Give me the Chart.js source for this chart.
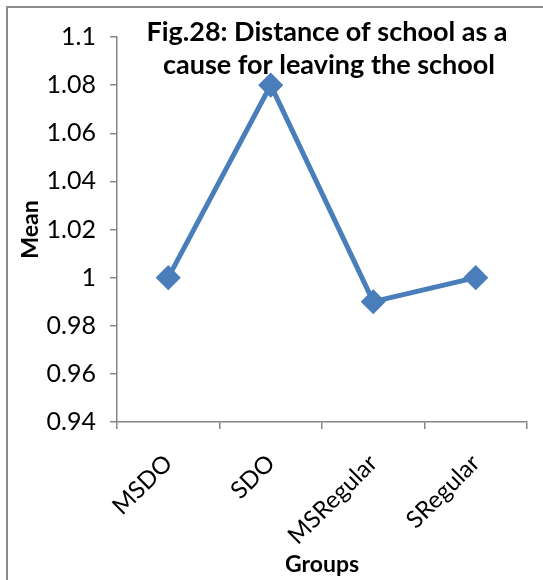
<!DOCTYPE html>
<html>
<head>
<meta charset="utf-8">
<script src="https://cdn.jsdelivr.net/npm/chart.js@4/dist/chart.umd.min.js"></script>
<style>
  html, body { margin: 0; padding: 0; background: #fff; }
  #wrap { position: relative; width: 543px; height: 580px; }
</style>
</head>
<body>
<div id="wrap"><canvas id="c" width="543" height="580"></canvas></div>
<script>
const groups = ['MSDO', 'SDO', 'MSRegular', 'SRegular'];
const meanValues = [1.0, 1.08, 0.99, 1.0];
const titleLines = ['Fig.28: Distance of school as a', 'cause for leaving the school'];
const yMin = 0.94, yMax = 1.1, yStep = 0.02;

const FONT = 'Lato, "Open Sans", "Liberation Sans", sans-serif';
const AXIS_GREY = '#868686';

// Frame around the figure and the title placed inside the plot
const decorations = {
  id: 'decorations',
  beforeDraw(chart) {
    const ctx = chart.ctx;
    ctx.save();
    ctx.strokeStyle = '#8c8c8c';
    ctx.lineWidth = 2;
    ctx.beginPath();
    ctx.moveTo(7, 580);
    ctx.lineTo(7, 7);
    ctx.lineTo(543, 7);
    ctx.stroke();
    ctx.restore();
  },
  afterDraw(chart) {
    const ctx = chart.ctx;
    ctx.save();
    ctx.fillStyle = '#000';
    ctx.font = 'bold 27px ' + FONT;
    ctx.textAlign = 'center';
    ctx.textBaseline = 'middle';
    ctx.fillText(titleLines[0], 327, 32);
    ctx.fillText(titleLines[1], 329, 65);
    ctx.restore();
  }
};

new Chart(document.getElementById('c'), {
  type: 'line',
  data: {
    labels: groups,
    datasets: [{
      data: meanValues,
      borderColor: '#4A7EBB',
      backgroundColor: '#4A7EBB',
      borderWidth: 5,
      pointStyle: 'rectRot',
      pointRadius: 9,
      pointHoverRadius: 9,
      tension: 0,
      fill: false
    }]
  },
  options: {
    responsive: false,
    animation: false,
    layout: { padding: { top: 37, right: 16, left: 0, bottom: 0 } },
    plugins: {
      legend: { display: false },
      tooltip: { enabled: false },
      title: { display: false }
    },
    scales: {
      x: {
        type: 'category',
        offset: true,
        afterFit(scale) { scale.height = 158; },
        border: { color: AXIS_GREY, width: 1.5 },
        grid: {
          offset: true,
          drawOnChartArea: false,
          drawTicks: true,
          tickLength: 7,
          color: AXIS_GREY,
          lineWidth: 1.5
        },
        ticks: {
          color: '#000',
          font: { family: FONT, size: 24 },
          minRotation: 45,
          maxRotation: 45,
          padding: 20
        },
        title: {
          display: true,
          text: 'Groups',
          color: '#000',
          font: { family: FONT, size: 23, weight: 'bold' },
          padding: { top: 0, bottom: 2 }
        }
      },
      y: {
        min: yMin,
        max: yMax,
        afterFit(scale) { scale.width = 117; },
        afterBuildTicks(scale) {
          const t = [];
          for (let i = 0; i <= Math.round((yMax - yMin) / yStep); i++) {
            t.push({ value: +(yMin + i * yStep).toFixed(2) });
          }
          scale.ticks = t;
        },
        border: { color: AXIS_GREY, width: 1.5 },
        grid: {
          drawOnChartArea: false,
          drawTicks: true,
          tickLength: 7,
          color: AXIS_GREY,
          lineWidth: 1.5
        },
        ticks: {
          color: '#000',
          font: { family: FONT, size: 25 },
          padding: 14,
          callback(v) { return String(+v.toFixed(2)); }
        },
        title: {
          display: true,
          text: 'Mean',
          color: '#000',
          font: { family: FONT, size: 23, weight: 'bold' },
          padding: { top: 17, bottom: 0 }
        }
      }
    }
  },
  plugins: [decorations]
});
</script>
</body>
</html>
